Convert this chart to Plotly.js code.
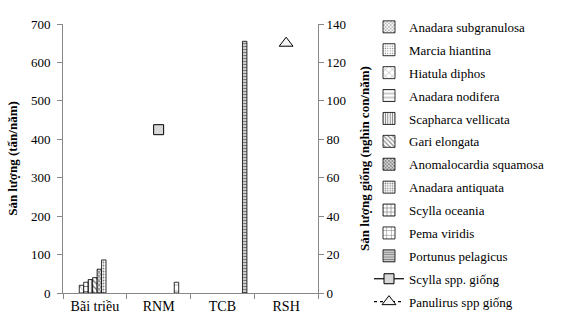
<!DOCTYPE html>
<html><head><meta charset="utf-8">
<script src="https://cdn.plot.ly/plotly-3.0.1.min.js"></script>
<style>html,body{margin:0;padding:0;background:#fff}#chart{width:565px;height:320px}</style>
</head><body><div id="chart"></div>
<script>
const categories = ["Bãi triều", "RNM", "TCB", "RSH"];
const speciesNames = ["Anadara subgranulosa","Marcia hiantina","Hiatula diphos","Anadara nodifera","Scapharca vellicata","Gari elongata","Anomalocardia squamosa","Anadara antiquata","Scylla oceania","Pema viridis","Portunus pelagicus"];
// production (tấn/năm) per category: Bãi triều, RNM, TCB, RSH (null = not present)
const anadaraSubgranulosa = [null, null, null, null];
const marciaHiantina = [null, null, null, null];
const hiatulaDiphos = [20, null, null, null];
const anadaraNodifera = [28, null, null, null];
const scapharcaVellicata = [35, null, null, null];
const gariElongata = [40, null, null, null];
const anomalocardiaSquamosa = [62, null, null, null];
const anadaraAntiquata = [86, null, null, null];
const scyllaOceania = [null, null, null, null];
const pemaViridis = [null, 28, null, null];
const portunusPelagicus = [null, null, 655, null];
// seed production (nghìn con/năm)
const scyllaSeedCat = ["RNM"];
const scyllaSeed = [85];
const panulirusSeedCat = ["RSH"];
const panulirusSeed = [130];

const seriesValues = [anadaraSubgranulosa, marciaHiantina, hiatulaDiphos, anadaraNodifera, scapharcaVellicata, gariElongata, anomalocardiaSquamosa, anadaraAntiquata, scyllaOceania, pemaViridis, portunusPelagicus];
const patterns = [
  {shape:"x", size:3, solidity:0.35},
  {shape:".", size:3, solidity:0.2},
  {shape:"x", size:6, solidity:0.15},
  {shape:"-", size:5, solidity:0.2},
  {shape:"|", size:3, solidity:0.4},
  {shape:"\\", size:4, solidity:0.35},
  {shape:"x", size:3, solidity:0.6},
  {shape:".", size:3, solidity:0.3},
  {shape:"+", size:5, solidity:0.3},
  {shape:"+", size:6, solidity:0.2},
  {shape:"-", size:3, solidity:0.6}
];
const serif = '"Liberation Serif", "Times New Roman", serif';
const traces = speciesNames.map((n, i) => ({
  type: "bar", name: n, x: categories, y: seriesValues[i], legendgroup: "g" + i,
  marker: {color: "#fff", line: {color: "#000", width: 0.8},
    pattern: {shape: patterns[i].shape, size: patterns[i].size, solidity: patterns[i].solidity, fgcolor: "#000", fillmode: "overlay"}}
}));
traces.push({type: "scatter", mode: "lines+markers", name: "Scylla spp. giống", x: scyllaSeedCat, y: scyllaSeed, yaxis: "y2", legendgroup: "g11",
  line: {color: "#000", width: 1.2}, marker: {symbol: "square", size: 10, color: "#d8d8d8", line: {color: "#000", width: 1}}});
traces.push({type: "scatter", mode: "lines+markers", name: "Panulirus spp giống", x: panulirusSeedCat, y: panulirusSeed, yaxis: "y2", legendgroup: "g12",
  line: {color: "#000", width: 1.2, dash: "dot"}, marker: {symbol: "triangle-up", size: 12, color: "#f4f4f4", line: {color: "#000", width: 1}}});

const layout = {
  width: 565, height: 320,
  margin: {l: 63, r: 247, t: 15, b: 27},
  paper_bgcolor: "#fff", plot_bgcolor: "#fff",
  font: {family: serif, size: 13, color: "#000"},
  barmode: "group", bargap: 0.23, bargroupgap: 0,
  showlegend: true,
  legend: {x: 1.2, xanchor: "left", y: 1.045, yanchor: "top", font: {family: serif, size: 13, color: "#000"},
    tracegroupgap: 3, itemwidth: 30, maxheight: 330, bgcolor: "rgba(0,0,0,0)"},
  xaxis: {type: "category", categoryarray: categories, tickson: "boundaries", ticks: "outside", ticklen: 5, tickcolor: "#888",
    showline: true, linecolor: "#888", linewidth: 1, showgrid: false, tickfont: {family: serif, size: 14}, fixedrange: true},
  yaxis: {range: [0, 700], dtick: 100, ticks: "outside", ticklen: 5, tickcolor: "#888", showline: true, linecolor: "#888",
    showgrid: false, zeroline: false, tickfont: {family: serif, size: 13}, ticklabelstandoff: 4,
    title: {text: "<b>Sản lượng (tấn/năm)</b>", font: {family: serif, size: 13}, standoff: 10}},
  yaxis2: {range: [0, 140], dtick: 20, overlaying: "y", side: "right", ticks: "outside", ticklen: 5, tickcolor: "#888",
    showline: true, linecolor: "#888", showgrid: false, zeroline: false, tickfont: {family: serif, size: 13},
    title: {text: "<b>Sản lượng giống (nghìn con/năm)</b>", font: {family: serif, size: 13}, standoff: 14}}
};
Plotly.newPlot("chart", traces, layout, {displayModeBar: false, staticPlot: true});
</script></body></html>
